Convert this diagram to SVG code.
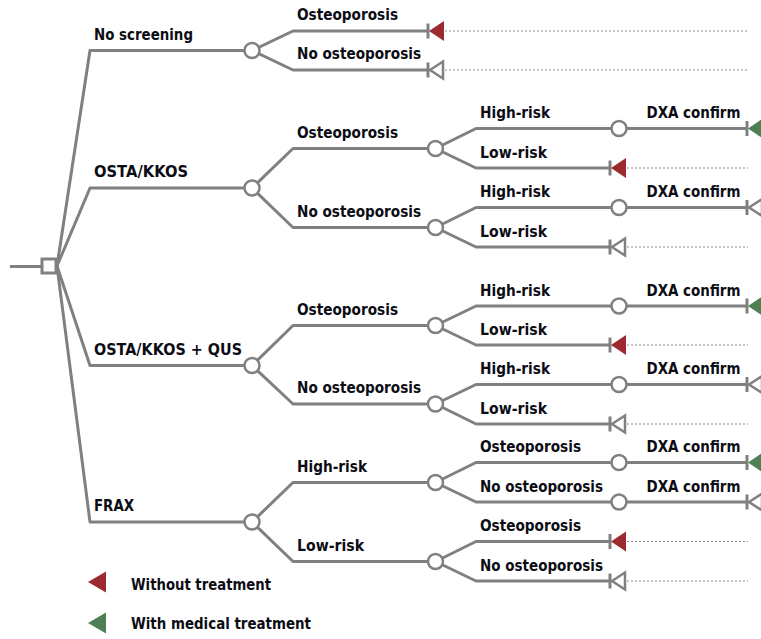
<svg xmlns="http://www.w3.org/2000/svg" xmlns:xlink="http://www.w3.org/1999/xlink" width="761" height="639" viewBox="0 0 761 639">
<style>
.ln{fill:none;stroke:#808080;stroke-width:3;stroke-linejoin:round}
.dot{fill:none;stroke:#8a8a8a;stroke-width:1;stroke-dasharray:2 2}
.ch{fill:#fff;stroke:#808080;stroke-width:2.5}
.t{font-family:"DejaVu Sans","Liberation Sans",sans-serif;font-weight:bold;font-size:15px;fill:#0c0c14}
.red{fill:#9b2b2e}
.green{fill:#4f8054}
</style>
<defs>
<g id="tRed"><line x1="0" y1="-7.5" x2="0" y2="7.5" stroke="#808080" stroke-width="3"/><path class="red" d="M1,0 L16,-10 L16,10 Z"/></g>
<g id="tGreen"><line x1="0" y1="-7.5" x2="0" y2="7.5" stroke="#808080" stroke-width="3"/><path class="green" d="M1,0 L16,-10 L16,10 Z"/></g>
<g id="tEmpty"><line x1="0" y1="-7.5" x2="0" y2="7.5" stroke="#808080" stroke-width="3"/><path d="M2,0 L15,-8.5 L15,8.5 Z" fill="#fff" stroke="#808080" stroke-width="2.5" stroke-linejoin="miter"/></g>
</defs>

<g id="connectors">
<path class="ln" d="M10,266.5 H42"/>
<path class="ln" d="M57,266 L90,50.5 H252"/>
<path class="ln" d="M57,266 L90,188 H252"/>
<path class="ln" d="M57,266 L90,365.5 H252"/>
<path class="ln" d="M57,266 L90,522 H252"/>
<path class="ln" d="M252,50.5 L293,31 H428"/>
<path class="ln" d="M252,50.5 L293,70 H428"/>
<path class="ln" d="M252,188 L293,148.5 H435.5"/>
<path class="ln" d="M252,188 L293,227.5 H435.5"/>
<path class="ln" d="M252,365.5 L293,325.5 H435.5"/>
<path class="ln" d="M252,365.5 L293,404 H435.5"/>
<path class="ln" d="M252,522 L293,482.5 H435.5"/>
<path class="ln" d="M252,522 L293,561.5 H435.5"/>
<path class="ln" d="M435.5,148.5 L476,128.5 H747"/>
<path class="ln" d="M435.5,148.5 L476,168 H610"/>
<path class="ln" d="M435.5,227.5 L476,207.5 H747"/>
<path class="ln" d="M435.5,227.5 L476,247 H610"/>
<path class="ln" d="M435.5,325.5 L476,306 H747"/>
<path class="ln" d="M435.5,325.5 L476,345 H610"/>
<path class="ln" d="M435.5,404 L476,384.5 H747"/>
<path class="ln" d="M435.5,404 L476,424 H610"/>
<path class="ln" d="M435.5,482.5 L476,462.5 H747"/>
<path class="ln" d="M435.5,482.5 L476,502 H747"/>
<path class="ln" d="M435.5,561.5 L476,541.5 H610"/>
<path class="ln" d="M435.5,561.5 L476,581 H610"/>
<path class="dot" d="M445,31 H747 M445,70 H747 M627,168 H748 M627,247 H748 M627,345 H748 M627,424 H748 M627,541.5 H748 M627,581 H748"/>
</g>

<g id="root"><rect x="42" y="259" width="14" height="14" fill="#fff" stroke="#808080" stroke-width="3"/></g>

<g id="n-noscreen"><circle class="ch" cx="252" cy="50.5" r="7.5"/><text class="t" x="94" y="40" textLength="99" lengthAdjust="spacingAndGlyphs">No screening</text></g>
<g id="n-osta"><circle class="ch" cx="252" cy="188" r="7.5"/><text class="t" x="94" y="177" textLength="94" lengthAdjust="spacingAndGlyphs">OSTA/KKOS</text></g>
<g id="n-qus"><circle class="ch" cx="252" cy="365.5" r="7.5"/><text class="t" x="94" y="354.5" textLength="148" lengthAdjust="spacingAndGlyphs">OSTA/KKOS + QUS</text></g>
<g id="n-frax"><circle class="ch" cx="252" cy="522" r="7.5"/><text class="t" x="94" y="511" textLength="40" lengthAdjust="spacingAndGlyphs">FRAX</text></g>

<g id="n-ns-osteo"><use xlink:href="#tRed" href="#tRed" x="428" y="31"/><text class="t" x="297" y="20" textLength="101" lengthAdjust="spacingAndGlyphs">Osteoporosis</text></g>
<g id="n-ns-noosteo"><use xlink:href="#tEmpty" href="#tEmpty" x="428" y="70"/><text class="t" x="297" y="59" textLength="124" lengthAdjust="spacingAndGlyphs">No osteoporosis</text></g>

<g id="n-osta-osteo"><circle class="ch" cx="435.5" cy="148.5" r="7.5"/><text class="t" x="297" y="137.5" textLength="101" lengthAdjust="spacingAndGlyphs">Osteoporosis</text></g>
<g id="n-osta-noosteo"><circle class="ch" cx="435.5" cy="227.5" r="7.5"/><text class="t" x="297" y="216.5" textLength="124" lengthAdjust="spacingAndGlyphs">No osteoporosis</text></g>
<g id="n-qus-osteo"><circle class="ch" cx="435.5" cy="325.5" r="7.5"/><text class="t" x="297" y="314.5" textLength="101" lengthAdjust="spacingAndGlyphs">Osteoporosis</text></g>
<g id="n-qus-noosteo"><circle class="ch" cx="435.5" cy="404" r="7.5"/><text class="t" x="297" y="393" textLength="124" lengthAdjust="spacingAndGlyphs">No osteoporosis</text></g>
<g id="n-frax-high"><circle class="ch" cx="435.5" cy="482.5" r="7.5"/><text class="t" x="297" y="471.5" textLength="70" lengthAdjust="spacingAndGlyphs">High-risk</text></g>
<g id="n-frax-low"><circle class="ch" cx="435.5" cy="561.5" r="7.5"/><text class="t" x="297" y="550.5" textLength="67" lengthAdjust="spacingAndGlyphs">Low-risk</text></g>

<g id="n-a1"><circle class="ch" cx="619" cy="128.5" r="7.5"/><text class="t" x="480" y="118" textLength="70" lengthAdjust="spacingAndGlyphs">High-risk</text></g>
<g id="n-a2"><use xlink:href="#tRed" href="#tRed" x="610" y="168"/><text class="t" x="480" y="157.5" textLength="67" lengthAdjust="spacingAndGlyphs">Low-risk</text></g>
<g id="n-a3"><circle class="ch" cx="619" cy="207.5" r="7.5"/><text class="t" x="480" y="197" textLength="70" lengthAdjust="spacingAndGlyphs">High-risk</text></g>
<g id="n-a4"><use xlink:href="#tEmpty" href="#tEmpty" x="610" y="247"/><text class="t" x="480" y="236.5" textLength="67" lengthAdjust="spacingAndGlyphs">Low-risk</text></g>
<g id="n-b1"><circle class="ch" cx="619" cy="306" r="7.5"/><text class="t" x="480" y="295.5" textLength="70" lengthAdjust="spacingAndGlyphs">High-risk</text></g>
<g id="n-b2"><use xlink:href="#tRed" href="#tRed" x="610" y="345"/><text class="t" x="480" y="334.5" textLength="67" lengthAdjust="spacingAndGlyphs">Low-risk</text></g>
<g id="n-b3"><circle class="ch" cx="619" cy="384.5" r="7.5"/><text class="t" x="480" y="374" textLength="70" lengthAdjust="spacingAndGlyphs">High-risk</text></g>
<g id="n-b4"><use xlink:href="#tEmpty" href="#tEmpty" x="610" y="424"/><text class="t" x="480" y="413.5" textLength="67" lengthAdjust="spacingAndGlyphs">Low-risk</text></g>
<g id="n-c1"><circle class="ch" cx="619" cy="462.5" r="7.5"/><text class="t" x="480" y="452" textLength="101" lengthAdjust="spacingAndGlyphs">Osteoporosis</text></g>
<g id="n-c2"><circle class="ch" cx="619" cy="502" r="7.5"/><text class="t" x="480" y="491.5" textLength="123" lengthAdjust="spacingAndGlyphs">No osteoporosis</text></g>
<g id="n-c3"><use xlink:href="#tRed" href="#tRed" x="610" y="541.5"/><text class="t" x="480" y="531" textLength="101" lengthAdjust="spacingAndGlyphs">Osteoporosis</text></g>
<g id="n-c4"><use xlink:href="#tEmpty" href="#tEmpty" x="610" y="581"/><text class="t" x="480" y="570.5" textLength="123" lengthAdjust="spacingAndGlyphs">No osteoporosis</text></g>

<g id="n-d1"><use xlink:href="#tGreen" href="#tGreen" x="747" y="128.5"/><text class="t" x="646.5" y="118" textLength="94" lengthAdjust="spacingAndGlyphs">DXA confirm</text></g>
<g id="n-d2"><use xlink:href="#tEmpty" href="#tEmpty" x="747" y="207.5"/><text class="t" x="646.5" y="197" textLength="94" lengthAdjust="spacingAndGlyphs">DXA confirm</text></g>
<g id="n-d3"><use xlink:href="#tGreen" href="#tGreen" x="747" y="306"/><text class="t" x="646.5" y="295.5" textLength="94" lengthAdjust="spacingAndGlyphs">DXA confirm</text></g>
<g id="n-d4"><use xlink:href="#tEmpty" href="#tEmpty" x="747" y="384.5"/><text class="t" x="646.5" y="374" textLength="94" lengthAdjust="spacingAndGlyphs">DXA confirm</text></g>
<g id="n-d5"><use xlink:href="#tGreen" href="#tGreen" x="747" y="462.5"/><text class="t" x="646.5" y="452" textLength="94" lengthAdjust="spacingAndGlyphs">DXA confirm</text></g>
<g id="n-d6"><use xlink:href="#tEmpty" href="#tEmpty" x="747" y="502"/><text class="t" x="646.5" y="491.5" textLength="94" lengthAdjust="spacingAndGlyphs">DXA confirm</text></g>

<g id="legend">
<path class="red" d="M88,582 L106,571.5 L106,592.5 Z"/>
<text class="t" x="131" y="590" textLength="140" lengthAdjust="spacingAndGlyphs">Without treatment</text>
<path class="green" d="M88,623 L106,612.5 L106,633.5 Z"/>
<text class="t" x="131" y="628.5" textLength="180" lengthAdjust="spacingAndGlyphs">With medical treatment</text>
</g>
</svg>
